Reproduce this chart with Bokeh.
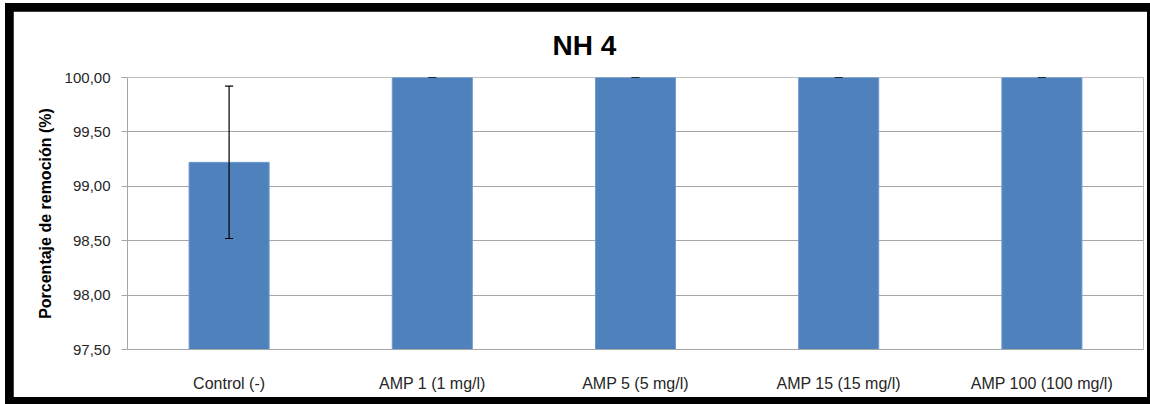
from bokeh.plotting import figure
from bokeh.layouts import column
from bokeh.models import (ColumnDataSource, Whisker, TeeHead, FixedTicker,
                          CustomJSTickFormatter, Title)
from bokeh.embed import file_html
from bokeh.resources import INLINE

categories = ["Control (-)", "AMP 1 (1 mg/l)", "AMP 5 (5 mg/l)",
              "AMP 15 (15 mg/l)", "AMP 100 (100 mg/l)"]
values = [99.22, 100.00, 100.00, 100.00, 100.00]
errors = [0.70, 0.0, 0.0, 0.0, 0.0]
y_ticks = [97.5, 98.0, 98.5, 99.0, 99.5, 100.0]
title_text = "NH 4"
y_label = "Porcentaje de remoción (%)"

FONT = "Liberation Sans"
BAR = "#4F81BD"
GRID = "#A6A6A6"

src = ColumnDataSource(dict(
    x=categories, top=values,
    upper=[v + e for v, e in zip(values, errors)],
    lower=[v - e for v, e in zip(values, errors)],
))

p = figure(x_range=categories, y_range=(y_ticks[0], y_ticks[-1]),
           width=1134, height=386, output_backend="svg", toolbar_location=None,
           min_border_left=114, min_border_right=4, min_border_top=66,
           min_border_bottom=48, outline_line_color=None)

p.vbar(x="x", top="top", bottom=y_ticks[0], width=0.394, source=src,
       fill_color=BAR, line_color="#6F9AD0", line_width=1)

w = Whisker(source=src, base="x", upper="upper", lower="lower",
            line_color="black", line_width=1.2, level="overlay",
            upper_head=TeeHead(size=8, line_color="black", line_width=1.2),
            lower_head=TeeHead(size=8, line_color="black", line_width=1.2))
p.add_layout(w)

t = Title(text=title_text, align="left", text_font=FONT,
          text_font_size="28px", text_font_style="bold", text_color="black",
          offset=425, standoff=33)
p.add_layout(t, "above")

p.yaxis.ticker = FixedTicker(ticks=y_ticks)
p.yaxis.formatter = CustomJSTickFormatter(code="return tick.toFixed(2).replace('.', ',');")
p.yaxis.axis_label = y_label
p.yaxis.axis_label_text_font = FONT
p.yaxis.axis_label_text_font_size = "16px"
p.yaxis.axis_label_text_font_style = "bold"
p.yaxis.axis_label_text_color = "black"
p.yaxis.axis_label_standoff = 8
p.yaxis.major_label_text_font = FONT
p.yaxis.major_label_text_font_size = "15px"
p.yaxis.major_label_text_color = "#262626"
p.yaxis.major_label_standoff = 11
p.yaxis.axis_line_color = GRID
p.yaxis.major_tick_line_color = GRID
p.yaxis.major_tick_out = 6
p.yaxis.major_tick_in = 0
p.yaxis.minor_tick_line_color = None

p.xaxis.major_label_text_font = FONT
p.xaxis.major_label_text_font_size = "16px"
p.xaxis.major_label_text_color = "#262626"
p.xaxis.major_label_standoff = 19
p.xaxis.axis_line_color = GRID
p.xaxis.major_tick_line_color = None
p.xaxis.minor_tick_line_color = None

p.xgrid.grid_line_color = None
p.ygrid.grid_line_color = GRID
p.ygrid.grid_line_width = 1

layout = column(p, styles={"background-color": "black",
                           "margin": "3px 0px 0px 5px",
                           "padding": "8px 3px 7px 8px"})

open("out.html", "w").write(file_html(layout, INLINE))
